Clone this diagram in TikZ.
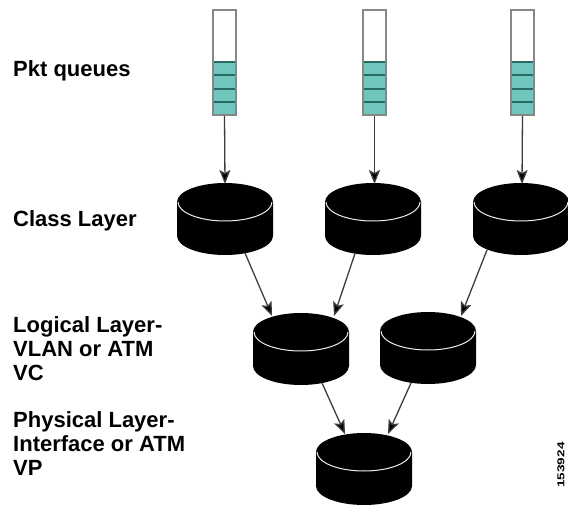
\documentclass[tikz,border=0pt]{standalone}
\usepackage{fontspec}
\setmainfont{Liberation Sans}
\usetikzlibrary{arrows.meta}
\definecolor{qteal}{RGB}{112,198,189}
\definecolor{qdark}{RGB}{40,105,98}
\definecolor{qgray}{RGB}{135,135,135}
\definecolor{arrgray}{RGB}{60,60,60}
\tikzset{
  lbl/.style={anchor=base west,inner sep=0pt,align=left,font=\fontsize{22}{24}\selectfont\bfseries},
  queuebox/.style={draw=qgray,line width=1.5pt,minimum width=23pt,minimum height=105pt,inner sep=0pt},
  conn/.style={draw=arrgray,line width=1.3pt,-{Stealth[length=14pt,width=11pt,inset=3pt,fill=black]}},
}
\newcommand\drum[3]{%
  \fill[black] (#2-48,#3+19) -- (#2-48,#3+53)
     arc[start angle=180,end angle=0,x radius=48,y radius=19]
     -- (#2+48,#3+19)
     arc[start angle=0,end angle=-180,x radius=48,y radius=19] -- cycle;
  \draw[white!85!gray,line width=1pt] (#2-47,#3+19)
     arc[start angle=180,end angle=0,x radius=47,y radius=19];
  \coordinate (#1) at (#2,#3+36);
}
\newcommand\queueat[2]{%
  \fill[qteal] (#2-11.5,62) rectangle (#2+11.5,115);
  \foreach \yy in {62,75.25,88.5,101.75,115}
    \draw[qdark,line width=2pt] (#2-11.5,\yy) -- (#2+11.5,\yy);
  \node[queuebox] (#1) at (#2,62.5) {};
}
\begin{document}
\begin{tikzpicture}[x=1pt,y=-1pt]
\fill[white] (0,0) rectangle (568,506);
\useasboundingbox (0,0) rectangle (568,506);

% labels
\node[lbl] (lpkt) at (13,76) {Pkt queues};
\node[lbl] (lclass) at (13,226) {Class Layer};
\node[lbl] (llog) at (13,380) {Logical Layer-\\VLAN or ATM\\VC};
\node[lbl] (lphy) at (13,475) {Physical Layer-\\Interface or ATM\\VP};

% queues
\queueat{q1}{224.5}
\queueat{q2}{374.5}
\queueat{q3}{522.5}

% drums
\drum{c1}{225}{183}
\drum{c2}{373}{183}
\drum{c3}{521}{183}
\drum{l1}{301}{313}
\drum{l2}{428}{312}
\drum{p1}{364}{433}

% connector end points
\coordinate (c1in) at (225,184);
\coordinate (c2in) at (374.5,184);
\coordinate (c3in) at (522,184);
\coordinate (c1out) at (245,253);
\coordinate (c2out) at (355,253.5);
\coordinate (c3out) at (487,250);
\coordinate (l1inA) at (272,316);
\coordinate (l1inB) at (334,316);
\coordinate (l2in) at (461,316);
\coordinate (l1out) at (322,383);
\coordinate (l2out) at (411,383);
\coordinate (p1inA) at (345,434);
\coordinate (p1inB) at (388,434);

\draw[conn] (q1.south) -- (c1in);
\draw[conn] (q2.south) -- (c2in);
\draw[conn] (q3.south) -- (c3in);
\draw[conn] (c1out) -- (l1inA);
\draw[conn] (c2out) -- (l1inB);
\draw[conn] (c3out) -- (l2in);
\draw[conn] (l1out) -- (p1inA);
\draw[conn] (l2out) -- (p1inB);

\node[rotate=90,inner sep=0pt,font=\fontsize{10}{10}\selectfont\bfseries] (code) at (561,465) {\scalebox{1.35}[1]{153924}};
\end{tikzpicture}
\end{document}
